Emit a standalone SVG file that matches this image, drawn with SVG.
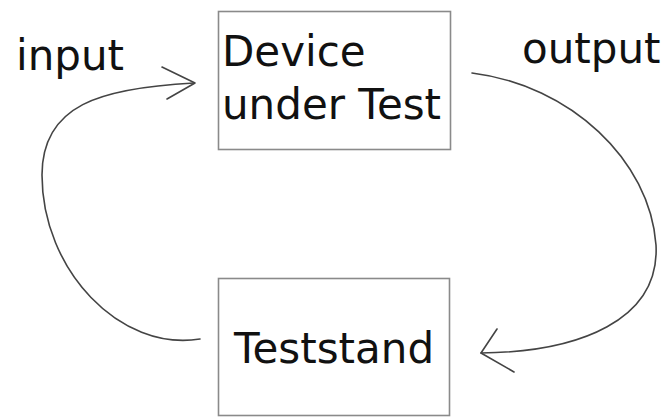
<svg xmlns="http://www.w3.org/2000/svg" width="668" height="417" viewBox="0 0 668 417">
<style>
.box{fill:#fff;stroke:#8a8a8a;stroke-width:1.6}
.t{font-family:"DejaVu Sans",sans-serif;font-size:42px;fill:#111}
.c{fill:none;stroke:#444;stroke-width:1.6;stroke-linecap:round;stroke-linejoin:round}
</style>
<rect width="668" height="417" fill="#fff"/>
<g id="dut">
<rect class="box" x="218.5" y="11.5" width="232" height="138"/>
<text class="t" x="222" y="66">Device</text>
<text class="t" x="222" y="119">under Test</text>
</g>
<g id="teststand">
<rect class="box" x="218.5" y="278.5" width="231" height="137"/>
<text class="t" x="234" y="363">Teststand</text>
</g>
<g id="labels">
<text class="t" x="16" y="70">input</text>
<text class="t" x="522" y="63">output</text>
</g>
<g id="connectors">
<path class="c" d="M200,339 C120,352 42,270 42,175 C42,105 100,88 194,83"/>
<path class="c" d="M162,67 L195,83 L167,99"/>
<path class="c" d="M472,73 C570,85 650,160 656,245 C660,320 580,352 481,353"/>
<path class="c" d="M497,329 L481,353 L514,372"/>
</g>
</svg>
